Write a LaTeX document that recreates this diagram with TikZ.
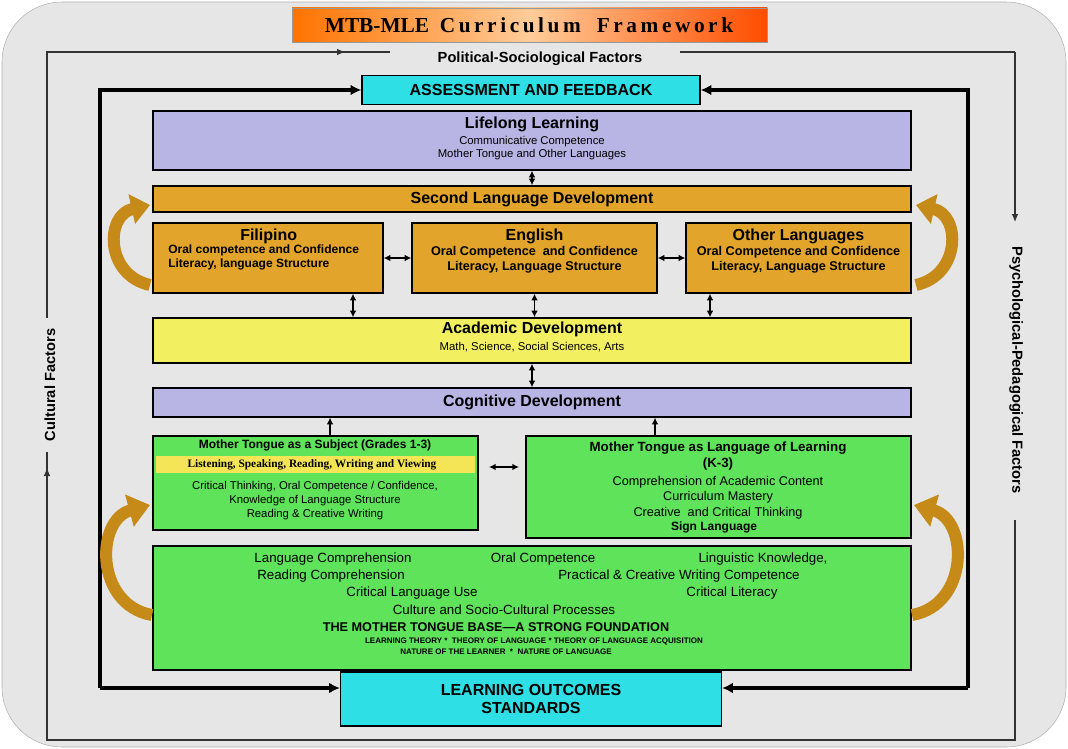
\documentclass[tikz,border=0pt]{standalone}
\usepackage{fontspec}
\setmainfont{Liberation Sans}
\newfontfamily\titlefont{Liberation Serif}
\usetikzlibrary{arrows.meta}
\definecolor{bg}{HTML}{E6E6E6}
\definecolor{lav}{HTML}{B8B4E4}
\definecolor{org}{HTML}{E2A42A}
\definecolor{yel}{HTML}{F2F060}
\definecolor{grn}{HTML}{5EE35A}
\definecolor{cyn}{HTML}{2EE0E6}
\definecolor{curv}{HTML}{E8A21C}
\begin{document}
\begin{tikzpicture}[x=0.75pt,y=-0.75pt,
  box/.style={draw=black,line width=1pt,inner sep=0pt},
  dbl/.style={{Latex[length=5pt,width=5pt]}-{Latex[length=5pt,width=5pt]},line width=1.2pt},
  one/.style={-{Latex[length=5pt,width=5pt]},line width=1.2pt},
  thick1/.style={line width=2.4pt},
  thin1/.style={line width=0.8pt,draw=black!80},
  thintip/.style={thin1,-{Latex[length=6pt,width=5pt]}},
  cur/.style={line width=9pt,draw=curv!85!black},
  t/.style={align=center,font=\fontsize{9}{10}\selectfont\bfseries,inner sep=0pt},
  h/.style={align=center,font=\fontsize{12}{13}\selectfont\bfseries,inner sep=0pt}]
\useasboundingbox (0,0) rectangle (1068,749);
\fill[white] (0,0) rectangle (1068,749);
\path[fill=bg,draw=black!30,rounded corners=45pt] (2,2) rectangle (1066,747);
% title
\shade[left color=orange!90!red,right color=orange!60!red,middle color=orange!40,draw=black!40] (292,8) rectangle (767,42);
\node[font=\titlefont\fontsize{16}{17}\selectfont\bfseries] (title) at (529,25) {MTB-MLE\ \ C\,u\,r\,r\,i\,c\,u\,l\,u\,m\ \ \ F\,r\,a\,m\,e\,w\,o\,r\,k};
% outer frame
\node[t,font=\fontsize{11}{12}\selectfont\bfseries] (pol) at (540,59) {Political-Sociological Factors};
\node[t,font=\fontsize{11}{12}\selectfont\bfseries,rotate=-90] (psy) at (1016,370) {Psychological-Pedagogical Factors};
\node[t,font=\fontsize{11}{12}\selectfont\bfseries,rotate=90] (cul) at (50,385) {Cultural Factors};
\coordinate (tl) at (47,52); \coordinate (tr) at (1015,52);
\coordinate (bl) at (47,740); \coordinate (br) at (1015,740);
\draw[thin1] (390,52) -- (tl) -- (47,318);
\draw[thintip] (tl) -- (345,52);
\draw[thin1] (680,52) -- (tr);
\draw[thintip] (tr) -- (1015,222);
\draw[thin1] (1015,520) -- (br) -- (bl) -- (47,452);
\draw[thintip] (bl) -- (47,468);
% thick frame
\node[box,fill=cyn,minimum width=338*0.75pt,minimum height=29*0.75pt,h] (ass) at (531,90) {ASSESSMENT AND FEEDBACK};
\node[box,fill=cyn,minimum width=381*0.75pt,minimum height=54*0.75pt,h] (lo) at (531,699) {LEARNING OUTCOMES\\STANDARDS};
\coordinate (fl) at (100,90); \coordinate (fr) at (968,90);
\coordinate (gl) at (100,688); \coordinate (gr) at (968,688);
\draw[thick1,-{Latex[length=8pt,width=8pt]}] (gl) -- (fl) -- (ass.west);
\draw[thick1,-{Latex[length=8pt,width=8pt]}] (gr) -- (fr) -- (ass.east);
\draw[thick1,-{Latex[length=8pt,width=8pt]}] (gl) -- (lo.west |- gl);
\draw[thick1,-{Latex[length=8pt,width=8pt]}] (gr) -- (lo.east |- gr);
% boxes
\node[box,fill=lav,minimum width=758*0.75pt,minimum height=59*0.75pt] (life) at (532,140.5) {};
\node[h,anchor=north] at (532,117) {Lifelong Learning};
\node[t,anchor=north,font=\fontsize{8.5}{10}\selectfont] at (532,136) {Communicative Competence\\Mother Tongue and Other Languages};
\node[box,fill=org,minimum width=758*0.75pt,minimum height=26*0.75pt,h] (sec) at (532,199) {Second Language Development};
\node[box,fill=org,minimum width=230*0.75pt,minimum height=70*0.75pt] (fil) at (268,258) {};
\node[h,anchor=north west] at (240,229) {Filipino};
\node[t,anchor=north west,align=left] at (168,245) {Oral competence and Confidence\\Literacy, language Structure};
\node[box,fill=org,minimum width=245*0.75pt,minimum height=70*0.75pt] (eng) at (534.5,258) {};
\node[h,anchor=north] at (534.5,229) {English};
\node[t,anchor=north,font=\fontsize{9.5}{11}\selectfont\bfseries] at (534.5,246) {Oral Competence \ and Confidence\\Literacy, Language Structure};
\node[box,fill=org,minimum width=225*0.75pt,minimum height=70*0.75pt] (oth) at (798.5,258) {};
\node[h,anchor=north] at (798.5,229) {Other Languages};
\node[t,anchor=north,font=\fontsize{9.5}{11}\selectfont\bfseries] at (798.5,246) {Oral Competence and Confidence\\Literacy, Language Structure};
\node[box,fill=yel,minimum width=758*0.75pt,minimum height=45*0.75pt] (acad) at (532,340.5) {};
\node[h,anchor=north] at (532,322) {Academic Development};
\node[t,anchor=north,font=\fontsize{8.5}{10}\selectfont] at (532,342) {Math, Science, Social Sciences, Arts};
\node[box,fill=lav,minimum width=758*0.75pt,minimum height=29*0.75pt,h] (cog) at (532,402.5) {Cognitive Development};
\node[box,fill=grn,minimum width=325*0.75pt,minimum height=94*0.75pt] (mts) at (315.5,483) {};
\fill[yel!90!orange] (156,456) rectangle (475,473);
\node[t,anchor=north,font=\fontsize{9}{10}\selectfont\bfseries] at (315,440) {Mother Tongue as a Subject (Grades 1-3)};
\node[t,anchor=center,font=\titlefont\fontsize{8.5}{10}\selectfont\bfseries] at (312,464.5) {Listening, Speaking, Reading, Writing and Viewing};
\node[t,anchor=north,font=\fontsize{8.5}{10.5}\selectfont] at (315,481) {Critical Thinking, Oral Competence / Confidence,\\Knowledge of Language Structure\\Reading \& Creative Writing};
\node[box,fill=grn,minimum width=385*0.75pt,minimum height=102*0.75pt] (mtl) at (718.5,487) {};
\node[t,anchor=north,font=\fontsize{10}{12}\selectfont\bfseries] at (718,442) {Mother Tongue as Language of Learning\\(K-3)};
\node[t,anchor=north,font=\fontsize{9.5}{11.5}\selectfont\mdseries] at (718,476) {Comprehension of Academic Content\\Curriculum Mastery\\Creative \ and Critical Thinking};
\node[t,anchor=north] at (714,522) {Sign Language};
\node[box,fill=grn,minimum width=758*0.75pt,minimum height=124*0.75pt] (base) at (532,608) {};
\begin{scope}[every node/.style={t,font=\fontsize{10}{12}\selectfont\mdseries}]
\node at (333,559) {Language Comprehension};
\node at (543,559) {Oral Competence};
\node at (763,559) {Linguistic Knowledge,};
\node at (331,576) {Reading Comprehension};
\node at (679,576) {Practical \& Creative Writing Competence};
\node at (412,593) {Critical Language Use};
\node at (732,593) {Critical Literacy};
\node at (504,610) {Culture and Socio-Cultural Processes};
\end{scope}
\node[t,font=\fontsize{9.5}{11}\selectfont\bfseries] at (496,627) {THE MOTHER TONGUE BASE---A STRONG FOUNDATION};
\node[t,font=\fontsize{6}{7}\selectfont\bfseries] at (534,641) {LEARNING THEORY * \ THEORY OF LANGUAGE * THEORY OF LANGUAGE ACQUISITION};
\node[t,font=\fontsize{6}{7}\selectfont\bfseries] at (506,652) {NATURE OF THE LEARNER \ * \ NATURE OF LANGUAGE};
% connectors
\draw[dbl] (life.south) -- (sec.north);
\draw[dbl] (fil.east) -- (eng.west);
\draw[dbl] (eng.east) -- (oth.west);
\draw[dbl] (fil.south -| 353,0) -- (acad.north -| 353,0);
\draw[dbl] (eng.south) -- (acad.north -| eng.south);
\draw[dbl] (oth.south -| 710,0) -- (acad.north -| 710,0);
\draw[dbl] (acad.south) -- (cog.north);
\draw[one] (mts.north -| 330,0) -- (cog.south -| 330,0);
\draw[one] (mtl.north -| 655,0) -- (cog.south -| 655,0);
\draw[dbl] (489,467) -- (519,467);
% curved arrows
\draw[cur,-{Triangle[length=14pt,width=22pt]}] (150,285) .. controls (105,275) and (105,215) .. (150,205);
\draw[cur,-{Triangle[length=14pt,width=22pt]}] (916,285) .. controls (961,275) and (961,215) .. (916,205);
\draw[cur,-{Triangle[length=16pt,width=24pt]}] (152,615) .. controls (95,605) and (95,520) .. (150,505);
\draw[cur,-{Triangle[length=16pt,width=24pt]}] (912,615) .. controls (969,605) and (969,520) .. (914,505);
\end{tikzpicture}
\end{document}
